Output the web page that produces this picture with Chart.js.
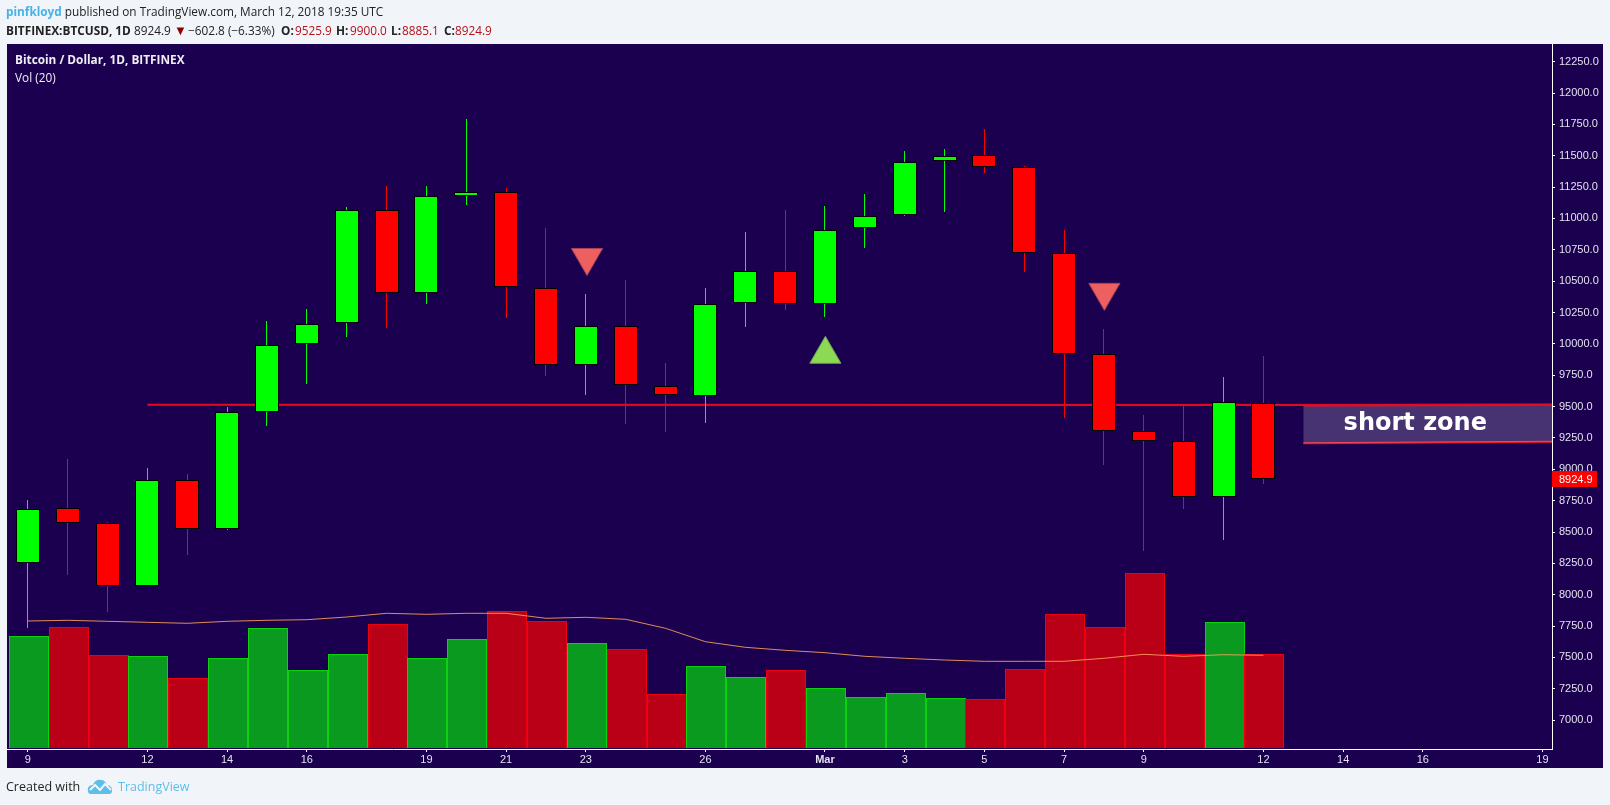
<!DOCTYPE html>
<html>
<head>
<meta charset="utf-8">
<title>BTCUSD 1D</title>
<script src="https://cdn.jsdelivr.net/npm/chart.js@4"></script>
<style>
  html, body { margin: 0; padding: 0; background: #f1f4f8; overflow: hidden; }
  #wrap { position: relative; width: 1610px; height: 805px; }
  canvas { position: absolute; left: 0; top: 0; }
  .txt { position: absolute; white-space: nowrap; font: 11.8px "Open Sans", sans-serif; color: #222; line-height: 16px; }
  .b { font-weight: 700; }
  .val { color: #b5121b; }
  .leg { color: #f0eef5; }
  .foot { font-size: 12.5px; }
</style>
</head>
<body>
<div id="wrap">
  <canvas id="chart" width="1610" height="805"></canvas>

  <span class="txt" style="left:6px;top:3px"><span class="b" style="color:#45b3e7">pinfkloyd</span> published on TradingView.com, March 12, 2018 19:35 UTC</span>

  <span class="txt b" style="left:6px;top:22px">BITFINEX:BTCUSD, 1D</span>
  <span class="txt" style="left:134px;top:22px">8924.9</span>
  <span class="txt" style="left:174px;top:22px;color:#8b0000;font-size:13px">▼</span>
  <span class="txt" style="left:188px;top:22px">−602.8 (−6.33%)</span>
  <span class="txt b" style="left:281px;top:22px">O:</span><span class="txt val" style="left:295px;top:22px">9525.9</span>
  <span class="txt b" style="left:336px;top:22px">H:</span><span class="txt val" style="left:350px;top:22px">9900.0</span>
  <span class="txt b" style="left:391px;top:22px">L:</span><span class="txt val" style="left:402px;top:22px">8885.1</span>
  <span class="txt b" style="left:444px;top:22px">C:</span><span class="txt val" style="left:455px;top:22px">8924.9</span>

  <span class="txt leg b" style="left:15px;top:51px">Bitcoin / Dollar, 1D, BITFINEX</span>
  <span class="txt leg" style="left:15px;top:69px">Vol (20)</span>

  <span class="txt foot" style="left:6px;top:779px">Created with</span>
  <svg style="position:absolute;left:87px;top:778px" width="26" height="17" viewBox="0 0 26 17">
    <path d="M1 13 C0 9 3 7 6 7 C7 3 11 1 14 2 C17 2 19 4 20 7 C23 7 26 10 25 13 C25 15 24 16 22 16 L4 16 C2 16 1 15 1 13 Z" fill="#5cbfe9"/>
    <path d="M3 12 L8 7 L13 12 L18 6 L24 12" fill="none" stroke="#f1f4f8" stroke-width="2"/>
  </svg>
  <span class="txt foot" style="left:118px;top:779px;color:#5cbfe9">TradingView</span>
</div>

<script>
// velas de 9 fev a 12 mar 2018
const opens  = [8255, 8689, 8569, 8072, 8912, 8521, 9454, 9997, 10164, 11065, 10403, 11177, 11213, 10448, 9829, 10145, 9667, 9582, 10323, 10583, 10318, 10922, 11025, 11456, 11504, 11408, 10722, 9917, 9303, 9223, 8777, 9525.9];
const highs  = [8755, 9082, 8580, 9010, 8962, 9497, 10182, 10278, 11091, 11259, 11259, 11793, 11243, 10924, 10398, 10509, 9845, 10445, 10892, 11067, 11099, 11195, 11538, 11554, 11710, 11418, 10908, 10119, 9433, 9507, 9736, 9900];
const lows   = [7737, 8157, 7864, 8070, 8320, 8516, 9345, 9680, 10055, 10127, 10320, 11107, 10206, 9744, 9592, 9361, 9295, 9369, 10135, 10270, 10214, 10764, 11020, 11052, 11362, 10573, 9409, 9034, 8348, 8683, 8436, 8885.1];
const closes = [8681, 8569, 8072, 8912, 8521, 9459, 9993, 10161, 11065, 10403, 11177, 11213, 10451, 9829, 10145, 9670, 9590, 10320, 10583, 10318, 10910, 11022, 11453, 11500, 11408, 10722, 9917, 9303, 9223, 8777, 9534, 8924.9];

// volume em unidades relativas (sem eixo na imagem)
const volumes  = [112, 121, 93, 92, 70, 90, 120, 78, 94, 124, 90, 109, 137, 127, 105, 99, 54, 82, 71, 78, 60, 51, 55, 50, 49, 79, 134, 121, 175, 94, 126, 94];
const volumeMA = [127, 127.7, 126.7, 125.7, 124.7, 126.7, 127.7, 128.3, 131, 134.7, 133.7, 134.7, 134.7, 129.7, 130.7, 128.7, 119.7, 106.3, 100.7, 97.7, 95.3, 91.7, 89.7, 88, 86.7, 86.7, 86.7, 89.7, 93.7, 91.7, 93.3, 92.7];

const tickPositions = [0, 3, 5, 7, 10, 12, 14, 17, 20, 22, 24, 26, 28, 31, 33, 35, 38];
const tickLabels    = ['9', '12', '14', '16', '19', '21', '23', '26', 'Mar', '3', '5', '7', '9', '12', '14', '16', '19'];

// desenhos do autor
const supportX      = [3, 38.24];
const supportY      = [9515, 9512];
const zoneX         = [32, 38.24];
const zoneTop       = [9510, 9515];
const zoneBottom    = [9207, 9220];
const zoneLabel     = 'short zone';
const arrowDownX    = [14.03, 27.01];
const arrowDownY    = [10689, 10411];
const arrowUpX      = [20.01];
const arrowUpY      = [9917];
const lastPrice     = 8924.9;

const X_MIN = -0.522, X_MAX = 38.24;
const Y_MIN = 6770, Y_MAX = 12391;

const UP = '#00ff00', DOWN = '#ff0000';
const isUp = closes.map((c, i) => c >= opens[i]);
const candleColors = isUp.map(u => u ? UP : DOWN);
const volFill      = isUp.map(u => u ? '#0a9a20' : '#b90017');
const volBorder    = isUp.map(u => u ? '#0bd10e' : '#ef0011');

const toXY = (xs, ys) => xs.map((x, i) => ({ x, y: ys[i] }));
const days = closes.map((_, i) => i);

// mantém as barras alinhadas ao pixel
const snapBars = {
  id: 'snapBars',
  afterDatasetsUpdate(chart) {
    chart.data.datasets.forEach((ds, i) => {
      if (ds.type !== 'bar') return;
      const meta = chart.getDatasetMeta(i);
      meta.data.forEach(el => {
        el.x = ds.barThickness % 2 ? Math.floor(el.x) + 0.5 : Math.round(el.x) + (ds.snapShift || 0);
        el.y = Math.round(el.y);
        el.base = Math.round(el.base);
        el.height = el.base - el.y;
      });
    });
  },
};

const panel = {
  id: 'panel',
  beforeDraw(chart) {
    const { ctx, chartArea: a } = chart;
    ctx.save();
    ctx.fillStyle = '#1a004f';
    ctx.fillRect(a.left, a.top, 1603 - a.left, 768 - a.top);
    ctx.restore();
  },
  afterDraw(chart) {
    const { ctx, scales } = chart;
    const y = scales.y.getPixelForValue(lastPrice);
    const axisX = scales.x.right;
    ctx.save();
    // etiqueta do último preço
    ctx.fillStyle = '#ff0000';
    ctx.fillRect(axisX, Math.round(y) - 8, 45, 16);
    ctx.fillStyle = '#ffffff';
    ctx.font = '11px "Liberation Sans", Arial, sans-serif';
    ctx.textBaseline = 'middle';
    ctx.textAlign = 'left';
    ctx.fillText(lastPrice.toFixed(1), axisX + 7, Math.round(y) + 0.5);
    // texto da zona
    const zx = scales.x.getPixelForValue(zoneX[0]);
    const zy = (scales.y.getPixelForValue(zoneTop[0]) + scales.y.getPixelForValue(zoneBottom[0])) / 2;
    ctx.font = 'bold 24px "DejaVu Sans", sans-serif';
    ctx.textAlign = 'center';
    ctx.fillText(zoneLabel, zx + 112, zy - 1);
    ctx.restore();
  },
};

new Chart(document.getElementById('chart'), {
  data: {
    datasets: [
      {
        type: 'bar',
        data: toXY(days, opens.map((o, i) => [o, closes[i]])),
        backgroundColor: candleColors,
        borderColor: '#000000',
        borderWidth: 1,
        borderSkipped: false,
        inflateAmount: 0,
        barThickness: 24,
        grouped: false,
        order: 2,
      },
      {
        type: 'bar',
        data: toXY(days, lows.map((l, i) => [l, highs[i]])),
        backgroundColor: candleColors,
        borderWidth: 0,
        inflateAmount: 0,
        barThickness: 1,
        grouped: false,
        order: 3,
      },
      {
        type: 'line',
        data: toXY(arrowDownX, arrowDownY),
        showLine: false,
        pointStyle: 'triangle',
        pointRotation: 180,
        pointRadius: 18,
        pointBackgroundColor: '#ee6060',
        pointBorderColor: '#a8405a',
        pointBorderWidth: 1,
        order: 1,
      },
      {
        type: 'line',
        data: toXY(arrowUpX, arrowUpY),
        showLine: false,
        pointStyle: 'triangle',
        pointRadius: 18,
        pointBackgroundColor: '#8cd953',
        pointBorderColor: '#6a9f52',
        pointBorderWidth: 1,
        order: 1,
      },
      {
        type: 'line',
        data: toXY(supportX, supportY),
        borderColor: '#e6091f',
        borderWidth: 2,
        pointRadius: 0,
        order: 4,
      },
      {
        type: 'line',
        data: toXY(zoneX, zoneTop),
        borderColor: '#f0182a',
        borderWidth: 2.5,
        pointRadius: 0,
        fill: '+1',
        backgroundColor: 'rgba(255,255,255,0.2)',
        order: 4,
      },
      {
        type: 'line',
        data: toXY(zoneX, zoneBottom),
        borderColor: '#f0182a',
        borderWidth: 2,
        pointRadius: 0,
        order: 4,
      },
      {
        type: 'line',
        yAxisID: 'vol',
        data: toXY(days, volumeMA),
        borderColor: 'rgba(255,165,90,0.85)',
        borderWidth: 1,
        pointRadius: 0,
        order: 5,
      },
      {
        type: 'bar',
        yAxisID: 'vol',
        data: toXY(days, volumes),
        backgroundColor: volFill,
        borderColor: volBorder,
        borderWidth: 1,
        borderSkipped: 'bottom',
        inflateAmount: 0,
        barThickness: 40,
        snapShift: 1,
        grouped: false,
        order: 6,
      },
    ],
  },
  options: {
    responsive: false,
    animation: false,
    layout: { autoPadding: false, padding: { left: 7, right: 7, top: 44, bottom: 37 } },
    plugins: {
      legend: { display: false },
      tooltip: { enabled: false },
    },
    scales: {
      x: {
        type: 'linear',
        offset: false,
        min: X_MIN,
        max: X_MAX,
        afterFit: s => { s.height = 19; },
        afterBuildTicks: s => { s.ticks = tickPositions.map(value => ({ value })); },
        border: { color: '#ffffff', width: 1 },
        grid: { offset: false, drawOnChartArea: false, tickColor: '#ffffff', tickLength: 3 },
        ticks: {
          autoSkip: false,
          maxRotation: 0,
          padding: 1,
          color: '#e4e1ee',
          font: ctx => ({
            family: '"Liberation Sans", Arial, sans-serif',
            size: 11,
            weight: ctx.index === tickLabels.indexOf('Mar') ? 'bold' : 'normal',
          }),
          callback: (v, i) => tickLabels[i],
        },
      },
      y: {
        position: 'right',
        min: Y_MIN,
        max: Y_MAX,
        afterFit: s => { s.width = 51; },
        border: { color: '#ffffff', width: 1 },
        grid: { drawOnChartArea: false, tickColor: '#ffffff', tickLength: 3 },
        ticks: {
          stepSize: 250,
          includeBounds: false,
          autoSkip: false,
          padding: 4,
          color: '#e4e1ee',
          font: { family: '"Liberation Sans", Arial, sans-serif', size: 11 },
          callback: v => v.toFixed(1),
        },
      },
      vol: {
        display: false,
        position: 'left',
        min: -1,
        max: 704,
      },
    },
  },
  plugins: [panel, snapBars],
});
</script>
</body>
</html>
